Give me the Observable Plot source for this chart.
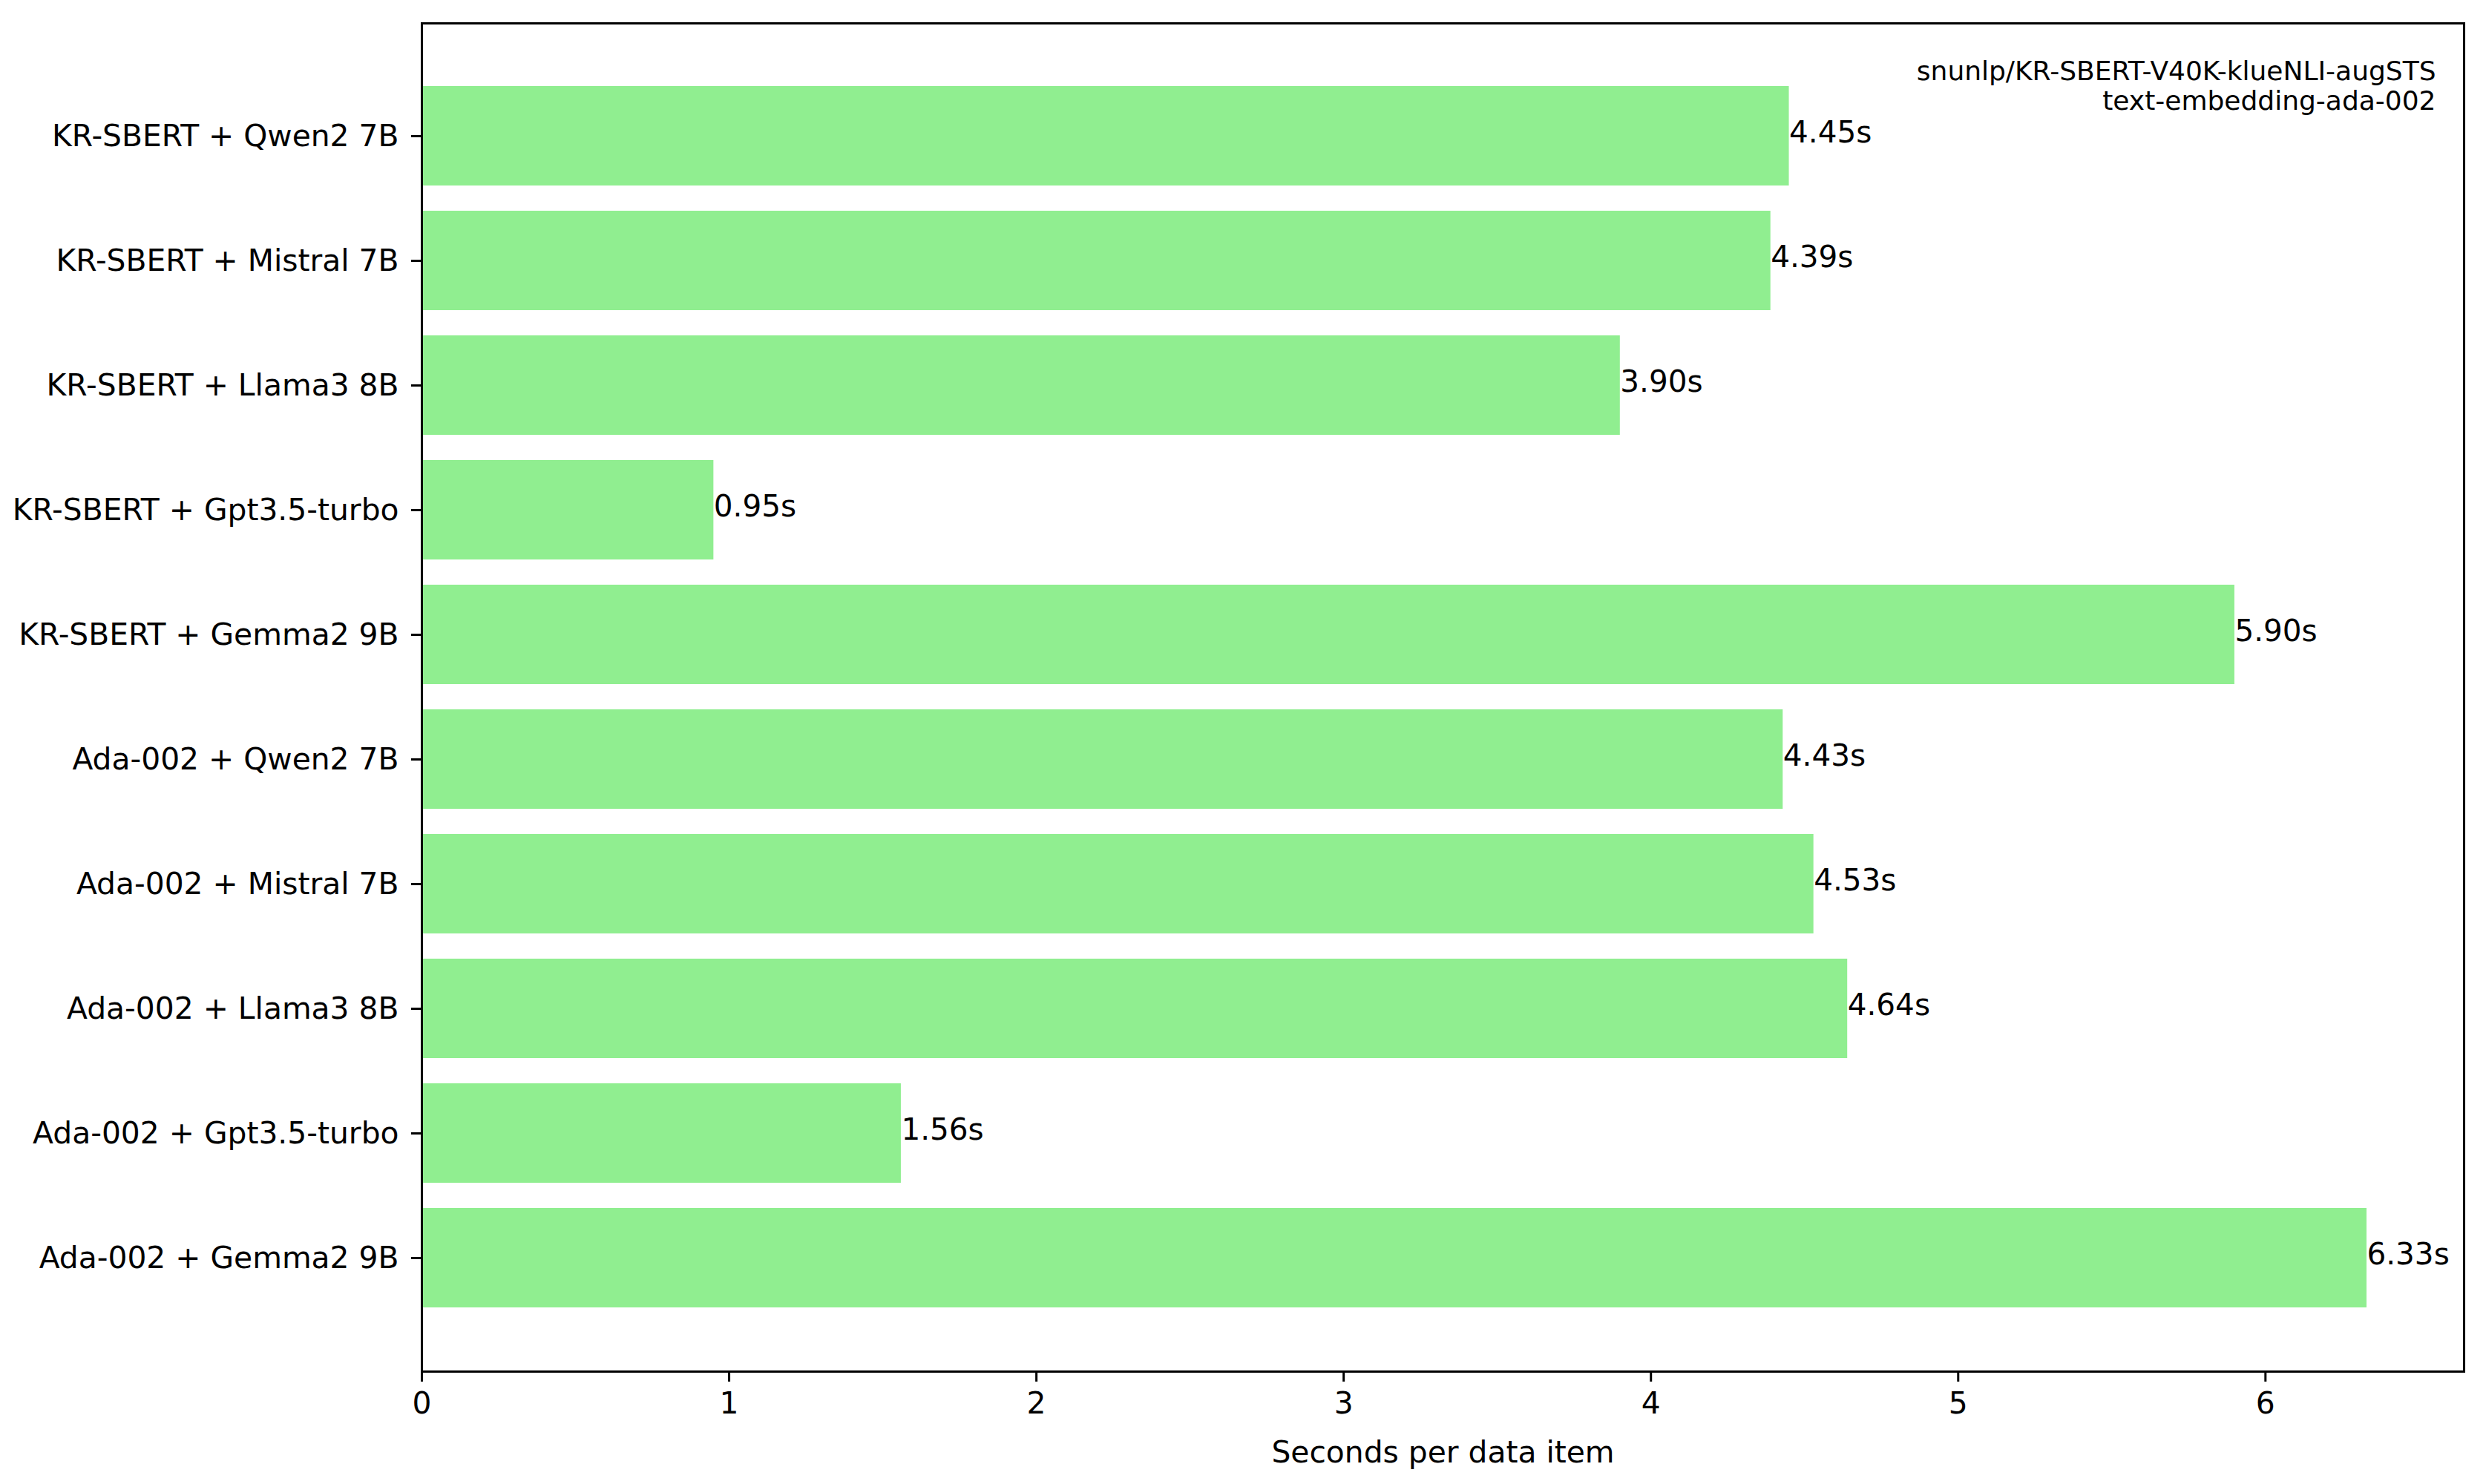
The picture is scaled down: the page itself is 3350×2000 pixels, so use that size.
<!DOCTYPE html>
<html>
<head>
<meta charset="utf-8">
<script src="https://cdn.jsdelivr.net/npm/d3@7"></script>
<script src="https://cdn.jsdelivr.net/npm/@observablehq/plot@0.6"></script>
<style>
  html, body { margin: 0; padding: 0; background: #fff; }
  #chart svg { display: block; }
</style>
</head>
<body>
<div id="chart"></div>
<script>
// Categories, listed top to bottom
const categories = [
  "KR-SBERT + Qwen2 7B",
  "KR-SBERT + Mistral 7B",
  "KR-SBERT + Llama3 8B",
  "KR-SBERT + Gpt3.5-turbo",
  "KR-SBERT + Gemma2 9B",
  "Ada-002 + Qwen2 7B",
  "Ada-002 + Mistral 7B",
  "Ada-002 + Llama3 8B",
  "Ada-002 + Gpt3.5-turbo",
  "Ada-002 + Gemma2 9B"
];
// Seconds per data item
const seconds = [4.45, 4.39, 3.90, 0.95, 5.90, 4.43, 4.53, 4.64, 1.56, 6.33];
const xTicks = [0, 1, 2, 3, 4, 5, 6];
const annotationLines = ["snunlp/KR-SBERT-V40K-klueNLI-augSTS", "text-embedding-ada-002"];
const xLabel = "Seconds per data item";

const data = categories.map((name, i) => ({name, value: seconds[i]}));
const xMax = d3.max(seconds) * 1.05;

const chart = Plot.plot({
  width: 3350,
  height: 2000,
  marginLeft: 568,
  marginRight: 30,
  marginTop: 31,
  marginBottom: 152,
  style: {fontFamily: "DejaVu Sans", fontSize: "40.8px", color: "black", background: "white"},
  x: {domain: [0, xMax], ticks: xTicks},
  y: {domain: categories, paddingInner: 0.2, paddingOuter: 0.49, align: 0.5},
  marks: [
    Plot.barX(data, {x: "value", y: "name", fill: "#90EE90"}),
    Plot.text(data, {
      x: "value", y: "name",
      text: d => d.value.toFixed(2) + "s",
      textAnchor: "start", fontSize: 40.5, dy: -4, fill: "black"
    }),
    Plot.text([annotationLines.join("\n")], {
      frameAnchor: "top-right", textAnchor: "end", lineAnchor: "top",
      dx: -38, dy: 48, fontSize: 36, lineHeight: 1.12, fill: "black"
    }),
    Plot.frame({stroke: "black", strokeWidth: 3}),
    Plot.axisX({
      ticks: xTicks, tickFormat: d => String(d), tickSize: 14, tickPadding: 14,
      strokeWidth: 3, fontSize: 40.8,
      label: xLabel, labelAnchor: "center", labelArrow: "none", labelOffset: 122
    }),
    Plot.axisY({tickSize: 14, tickPadding: 17, strokeWidth: 3, fontSize: 40.8, label: null})
  ]
});
document.getElementById("chart").appendChild(chart);
</script>
</body>
</html>
